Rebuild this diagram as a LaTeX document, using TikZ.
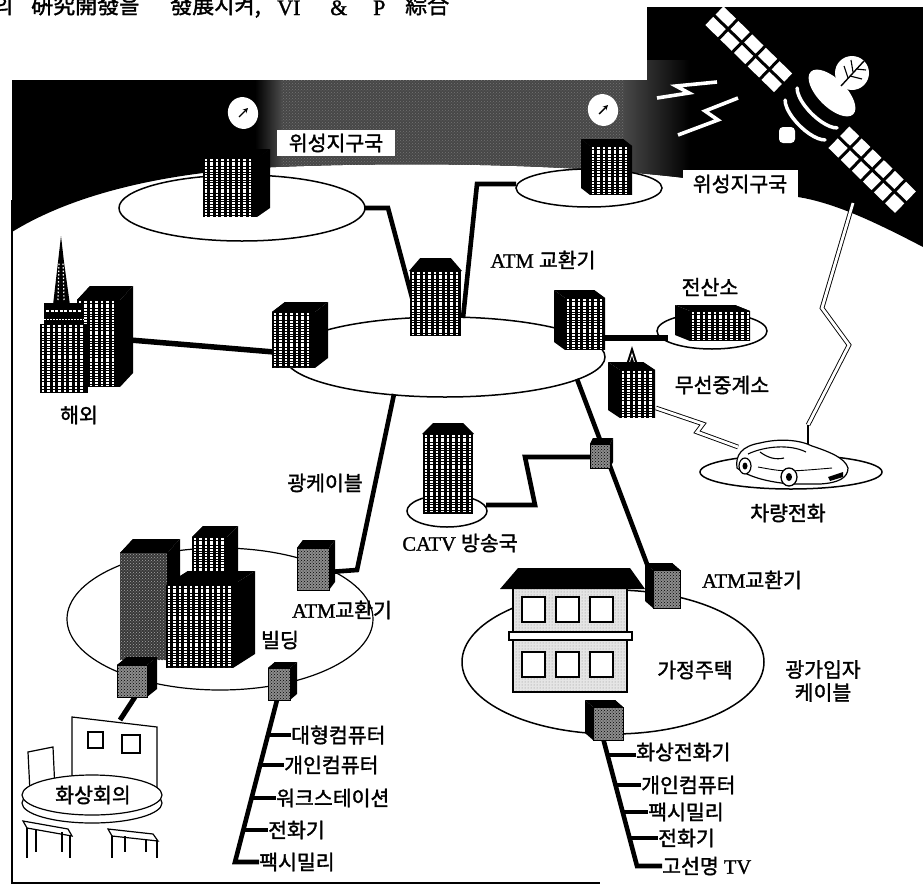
\documentclass[tikz,border=0pt]{standalone}
\usepackage{fontspec}
\setmainfont{Liberation Serif}[RawFeature={embolden=1.2}]
\newfontfamily\kr{Noto Sans CJK KR}[RawFeature={embolden=1.6}]
\usetikzlibrary{patterns,arrows.meta}

\newcommand\hg[1]{{\kr #1}}

% striped facade: x, y (top left), width, height
\newcommand\stripeface[4]{%
  \fill[black] (#1,#2) rectangle ++(#3,#4);
  \pgfmathsetmacro\stripeend{#3-2}%
  \foreach \s in {3,8.5,...,\stripeend}{%
    \draw[white, line width=2.8pt, dash pattern=on 1.8pt off 0.9pt] (#1+\s,#2+1) -- ++(0,#4-2);}%
}
% grey dotted facade
\newcommand\greyface[4]{%
  \fill[black!45] (#1,#2) rectangle ++(#3,#4);
  \fill[pattern=crosshatch dots, pattern color=black] (#1,#2) rectangle ++(#3,#4);
}
% black roof and side face: x y w h dx dy (dx<0 puts the side on the left)
\newcommand\shell[6]{%
  \fill[black] (#1,#2) -- (#1+#5,#2-#6) -- (#1+#3+#5,#2-#6) -- (#1+#3,#2) -- cycle;
  \fill[black] (#1+#3,#2) -- (#1+#3+#5,#2-#6) -- (#1+#3+#5,#2+#4-#6) -- (#1+#3,#2+#4) -- cycle;
  \fill[black] (#1,#2) -- (#1+#5,#2-#6) -- (#1+#5,#2+#4-#6) -- (#1,#2+#4) -- cycle;
}
\newcommand\tower[6]{\shell{#1}{#2}{#3}{#4}{#5}{#6}\stripeface{#1}{#2}{#3}{#4}}
\newcommand\gbox[6]{\shell{#1}{#2}{#3}{#4}{#5}{#6}\greyface{#1}{#2}{#3}{#4}%
  \draw[line width=0.6pt] (#1,#2) rectangle ++(#3,#4);}
% striped block under a hipped black roof: x y w h roofheight
\newcommand\roofed[5]{%
  \fill[black] (#1-1,#2+1) -- (#1+0.2*#3,#2-#5) -- (#1+0.8*#3,#2-#5) -- (#1+#3+1,#2+1) -- cycle;
  \stripeface{#1}{#2+1}{#3}{#4}}
% small dish antenna: centre x, y
\newcommand\stationdish[2]{%
  \fill[white, rotate around={20:(#1,#2)}] (#1,#2) ellipse [x radius=15, y radius=16];
  \draw[-{Stealth[length=5pt,width=5pt]}, line width=1.4pt] (#1-4,#2+4) -- (#1+5,#2-5);
}

\begin{document}
\begin{tikzpicture}[x=1pt, y=-1pt,
  cable/.style={line width=4.6pt, line join=miter},
  ring/.style={draw, line width=1.5pt, fill=white},
  lbl/.style={font=\fontsize{20.5}{25}\selectfont, inner sep=1pt},
  tag/.style={lbl, fill=white, inner sep=0pt, minimum height=26pt},
  radio/.style={draw=black, line width=0.9pt, double=white, double distance=2.8pt, line join=miter},
  bolt/.style={white, line width=3.6pt, line join=miter},
  cellgap/.style={black, line width=3pt},
  outline/.style={draw=black, line width=1.2pt, fill=white}]

\useasboundingbox (0,0) rectangle (923,886);

% running head of the page, cut by the top edge
\begin{scope}[font=\fontsize{22}{24}\selectfont]
\node[anchor=base west, inner sep=0] (hd1) at (-7,13.5) {\hg{의}};
\node[anchor=base west, inner sep=0] (hd2) at (31,13.5) {\hg{硏究開發을}};
\node[anchor=base west, inner sep=0] (hd3) at (170,13.5) {\hg{發展시켜,}};
\node[anchor=base west, inner sep=0] (hd4) at (277,15) {VI};
\node[anchor=base west, inner sep=0] (hd5) at (330,15) {\&};
\node[anchor=base west, inner sep=0] (hd6) at (373,15) {P};
\node[anchor=base west, inner sep=0] (hd7) at (405,13.5) {\hg{綜合}};
\end{scope}

% ---------------- sky ----------------
\begin{scope}
\clip (12,80) -- (647,80) -- (647,7) -- (923,7) -- (923,247)
  .. controls (875,222) and (835,203) .. (798,197) -- (685,178)
  .. controls (560,163) and (400,162) .. (276,167)
  .. controls (160,172) and (70,196) .. (12,232) -- cycle;
\fill[black] (0,0) rectangle (923,260);
\fill[black!72] (280,60) rectangle (625,200);
\fill[pattern=crosshatch dots, pattern color=white!45!black] (280,60) rectangle (625,200);
\shade[left color=black, right color=black!72] (255,60) rectangle (281,200);
\shade[left color=black!72, right color=black] (624,60) rectangle (690,200);
\end{scope}

% frame
\draw[line width=1.3pt] (12,200) -- (12,883) -- (600,883);

% ---------------- satellite ----------------
\begin{scope}[shift={(811,110)}, rotate=-44.3]
  \fill[white] (-135,-13) rectangle (-39,13);
  \draw[cellgap] (-136,0) -- (-38,0);
  \foreach \u in {-115.8,-96.6,-77.4,-58.2} \draw[cellgap] (\u,-14) -- (\u,14);
  \fill[white] (39,-15) rectangle (132,15);
  \draw[cellgap] (38,0) -- (133,0);
  \foreach \u in {54.5,70,85.5,101,116.5} \draw[cellgap] (\u,-16) -- (\u,16);
\end{scope}
\begin{scope}[shift={(832,93)}, rotate=-45]
  \fill[white] (0,0) ellipse [x radius=30, y radius=14];
  \draw[white, line width=3.5pt, line cap=round] (28.2,21.1) arc [start angle=20, end angle=160, x radius=30, y radius=12];
  \draw[white, line width=3.5pt, line cap=round] (28.2,38.1) arc [start angle=20, end angle=160, x radius=30, y radius=12];
\end{scope}
\fill[white, rounded corners=4pt] (779,127) rectangle (795,143);
\fill[white] (852,73) circle [radius=17];
\draw[line width=1.4pt] (841,86) -- (864,61);
\draw[line width=1.1pt] (848,78) -- (844,66) (853,72) -- (851,60) (850,76) -- (862,79) (856,69) -- (866,70);

% radio bolts from the satellite
\draw[bolt] (657,98) -- (689,93) -- (676,86) -- (717,82);
\draw[bolt] (678,135) -- (718,120) -- (705,111) -- (738,98);

% ---------------- rings ----------------
\coordinate (st1) at (242,208);
\coordinate (st2) at (589,188);
\coordinate (hub) at (445,357);
\coordinate (cc)  at (712,331);
\coordinate (carR) at (791,472);
\coordinate (tv) at (447,511);
\coordinate (bld) at (220,619);
\coordinate (home) at (613,662);
\draw[ring] (st1) ellipse [x radius=123, y radius=33];
\draw[ring] (st2) ellipse [x radius=73, y radius=19];
\draw[ring] (hub) ellipse [x radius=160, y radius=40];
\draw[ring] (cc) ellipse [x radius=55, y radius=18];
\draw[ring] (carR) ellipse [x radius=91, y radius=17];
\draw[ring] (tv) ellipse [x radius=40, y radius=16];
\draw[ring, line width=1.2pt] (bld) ellipse [x radius=153, y radius=71];
\draw[ring] (home) ellipse [x radius=151, y radius=72];

% ---------------- cable end points ----------------
\coordinate (st1E) at (365,208);
\coordinate (hubC1) at (414,305);
\coordinate (st2W) at (516,184);
\coordinate (hubC2) at (463,318);
\coordinate (ovsE) at (130,340);
\coordinate (hubW) at (274,352);
\coordinate (hubE) at (603,338);
\coordinate (ccW) at (668,338);
\coordinate (hubS) at (394,394);
\coordinate (bldATM) at (329,572);
\coordinate (hubSE) at (577,379);
\coordinate (homeATM) at (650,572);
\coordinate (jbW) at (592,457);
\coordinate (tvE) at (486,505);
\coordinate (bldB1) at (135,697);
\coordinate (meet) at (120,720);
\coordinate (bldB2) at (277,700);
\coordinate (bldEnd) at (235,862);
\coordinate (homeB) at (603,738);
\coordinate (homeEnd) at (637,866);

\draw[cable] (st1E) -- (388,208) -- (hubC1);
\draw[cable] (st2W) -- (477,184) -- (hubC2);
\draw[cable, line width=5.5pt] (ovsE) -- (hubW);
\draw[cable, line width=6pt] (hubE) -- (ccW);
\draw[cable] (hubS) -- (357,570) -- (bldATM);
\draw[cable] (hubSE) -- (homeATM);
\draw[cable] (jbW) -- (525,457) -- (535,505) -- (tvE);
\draw[cable, line width=5pt] (bldB1) -- (meet);

% outlets of the building
\draw[cable] (bldB2) -- (bldEnd) -- (259,862);
\draw[cable] (267.9,735) -- (291,735);
\draw[cable] (260.1,765) -- (284,765);
\draw[cable] (251.6,798) -- (276,798);
\draw[cable] (243.3,830) -- (268,830);
% outlets of the house
\draw[cable] (homeB) -- (homeEnd) -- (662,866);
\draw[cable] (607.5,755) -- (636,755);
\draw[cable] (615.5,785) -- (641,785);
\draw[cable] (622.7,812) -- (648,812);
\draw[cable] (629.6,838) -- (658,838);

% wireless links to the car
\draw[radio] (656,408) -- (703,424) -- (697,432) -- (738,447);
\draw[radio] (853,203) -- (822,308) -- (849,345) -- (808,425);

% ---------------- buildings ----------------
% earth stations
\tower{203}{158}{54}{59}{13}{9}
\stationdish{243}{113}
\tower{590}{146}{42}{49}{-9}{7}
\stationdish{603}{110}
% hub switches
\tower{272}{312}{43}{56}{13}{10}
\roofed{410}{270}{51}{65}{12}
\tower{565}{298}{40}{52}{-11}{8}
% computer centre
\tower{690}{311}{60}{30}{-15}{6}
% radio relay station
\fill (625,368) -- (632,346) -- (639,368) -- cycle;
\draw[white, line width=0.8pt] (629,364) -- (632,354) -- (635,364);
\tower{620}{370}{35}{48}{-12}{8}
% overseas
\tower{77}{300}{43}{87}{13}{14}
\fill (53,305) -- (58,262) -- (61,236) -- (64,262) -- (70,305) -- cycle;
\draw[white, line width=1.2pt, dash pattern=on 1.5pt off 2pt] (58,300) -- (59,262) (64,300) -- (63,262);
\fill (44,303) rectangle (84,324);
\draw[white, line width=2.2pt, dash pattern=on 3pt off 1.5pt] (46,311) -- (82,311);
\draw[white, line width=1pt, dash pattern=on 2pt off 1pt] (44,319) -- (84,319);
\stripeface{40}{324}{48}{69}
% CATV station
\roofed{423}{433}{50}{80}{10}
% junction box
\gbox{590}{444}{20}{24}{3}{6}

% office block
\tower{192}{537}{35}{60}{11}{11}
\shell{120}{553}{47}{107}{13}{14}
\fill[black!78] (120,553) rectangle (167,660);
\fill[pattern=crosshatch dots, pattern color=black!35] (120,553) rectangle (167,660);
\tower{166}{585}{67}{83}{22}{14}
\gbox{297}{548}{32}{42}{6}{8}
\gbox{117}{665}{30}{32}{10}{8}
\gbox{268}{668}{22}{32}{7}{6}

% house
\fill[black!10] (513,588) rectangle (627,692);
\fill[pattern=dots, pattern color=black!45] (513,588) rectangle (627,692);
\draw[line width=1.2pt] (513,588) rectangle (627,692);
\draw[outline] (509,632) rectangle (632,640);
\foreach \wx in {522,556,590}{
  \draw[outline, line width=1.6pt] (\wx,597) rectangle ++(23,25);
  \draw[outline, line width=1.6pt] (\wx,652) rectangle ++(23,25);
}
\fill (500,589) -- (518,568) -- (630,568) -- (645,589) -- cycle;
\gbox{653}{570}{27}{38}{-8}{7}
\gbox{593}{707}{30}{33}{-8}{7}

% ---------------- car ----------------
\draw[line width=1.1pt] (808,425) -- (808,447);
\filldraw[fill=white, line width=1.2pt] (737,468) .. controls (735,455) and (742,446) .. (760,443)
  .. controls (780,438) and (800,440) .. (812,446) .. controls (830,452) and (845,458) .. (848,468)
  .. controls (848,478) and (838,483) .. (820,484) -- (790,484)
  .. controls (770,482) and (750,478) .. (737,468) -- cycle;
\draw[line width=1.1pt] (748,454) .. controls (765,446) and (790,444) .. (806,452);
\draw[line width=1.1pt] (760,452) .. controls (768,458) and (776,460) .. (784,458);
\draw[line width=0.9pt] (758,467) .. controls (785,472) .. (832,468);
\filldraw[fill=white, line width=1.2pt] (745,466) ellipse [x radius=6, y radius=8];
\fill (745,466) ellipse [x radius=2.5, y radius=3.5];
\filldraw[fill=white, line width=1.3pt] (789,477) ellipse [x radius=8, y radius=9];
\fill (789,477) ellipse [x radius=3, y radius=4];
\fill (828,477) -- (843,472) -- (843,477) -- (830,481) -- cycle;

% ---------------- video conference ----------------
\draw[outline] (28,752) -- (53,747) -- (55,790) -- (30,792) -- cycle;
\draw[outline] (72,717) -- (157,727) -- (157,790) -- (72,785) -- cycle;
\draw[line width=1.6pt] (88,732) rectangle (103,748) (122,735) rectangle (140,753);
\draw[outline] (92,803) ellipse [x radius=70, y radius=20];
\draw[outline] (92,795) ellipse [x radius=70, y radius=20];
\draw[outline] (23,821) -- (68,829) -- (72,836) -- (27,828) -- cycle;
\draw[line width=1.2pt] (27,828) -- (27,858) (36,830) -- (36,852) (62,832) -- (62,852) (70,836) -- (70,858);
\draw[outline] (108,829) -- (153,834) -- (158,841) -- (112,836) -- cycle;
\draw[line width=1.2pt] (112,836) -- (112,858) (125,836) -- (125,852) (146,839) -- (146,852) (157,841) -- (157,858);

% ---------------- labels ----------------
\node[tag, minimum width=118pt] (lst1) at (336,143) {\hg{위성지구국}};
\node[tag, minimum width=115pt, minimum height=28pt] (lst2) at (740,184) {\hg{위성지구국}};
\node[lbl] (lhub) at (543,260) {ATM \hg{교환기}};
\node[lbl] (lcc) at (710,287) {\hg{전산소}};
\node[lbl] (lovs) at (79,415) {\hg{해외}};
\node[lbl] (lrel) at (722,385) {\hg{무선중계소}};
\node[lbl] (lcar) at (788,513) {\hg{차량전화}};
\node[lbl] (lfib) at (325,483) {\hg{광케이블}};
\node[lbl] (ltv) at (460,543) {CATV \hg{방송국}};
\node[lbl] (lbatm) at (342,610) {ATM\hg{교환기}};
\node[lbl] (lbld) at (280,640) {\hg{빌딩}};
\node[lbl] (lhatm) at (752,580) {ATM\hg{교환기}};
\node[lbl] (lhome) at (695,670) {\hg{가정주택}};
\node[lbl, align=center, font=\fontsize{20.5}{23}\selectfont] (lsub) at (823,681) {\hg{광가입자}\\\hg{케이블}};
\node[lbl] (lconf) at (93,795) {\hg{화상회의}};

\node[lbl, anchor=west] (o1) at (290,735) {\hg{대형컴퓨터}};
\node[lbl, anchor=west] (o2) at (283,765) {\hg{개인컴퓨터}};
\node[lbl, anchor=west] (o3) at (275,798) {\hg{워크스테이션}};
\node[lbl, anchor=west] (o4) at (267,830) {\hg{전화기}};
\node[lbl, anchor=west] (o5) at (258,862) {\hg{팩시밀리}};

\node[lbl, anchor=west] (h1) at (635,752) {\hg{화상전화기}};
\node[lbl, anchor=west] (h2) at (640,785) {\hg{개인컴퓨터}};
\node[lbl, anchor=west] (h3) at (647,812) {\hg{팩시밀리}};
\node[lbl, anchor=west] (h4) at (657,838) {\hg{전화기}};
\node[lbl, anchor=west] (h5) at (661,866) {\hg{고선명} TV};
\end{tikzpicture}
\end{document}
